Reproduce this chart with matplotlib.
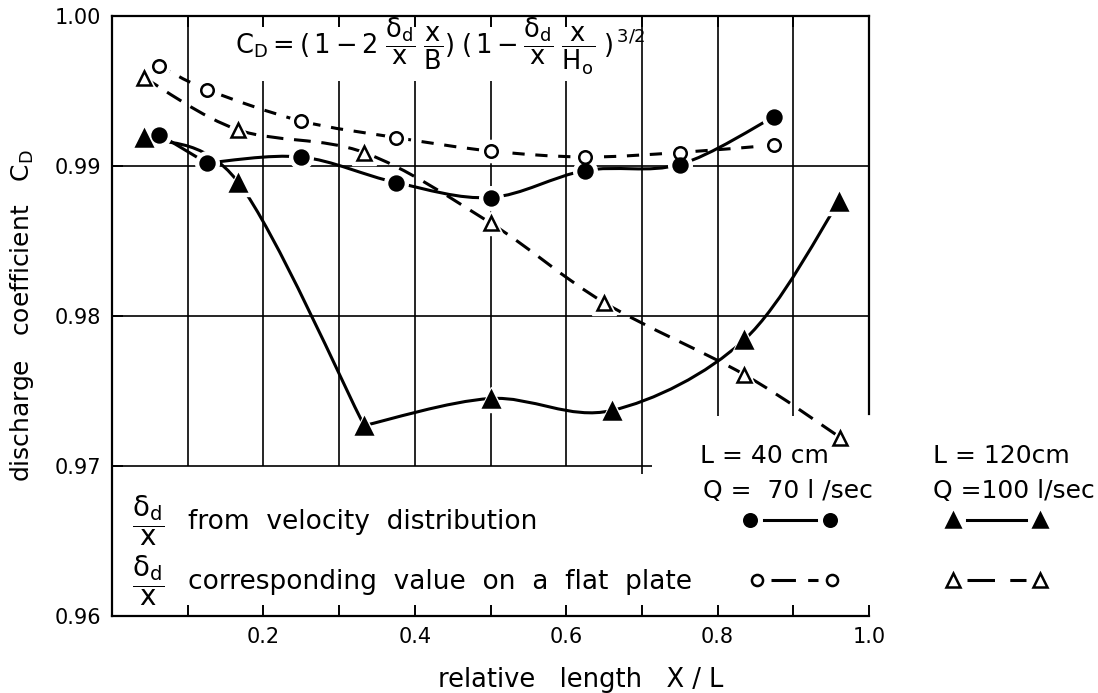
import numpy as np
import matplotlib
matplotlib.use("Agg")
import matplotlib.pyplot as plt
from matplotlib.path import Path
from matplotlib.patches import PathPatch
from matplotlib.lines import Line2D

plt.rcParams['font.family'] = ['DejaVu Sans']
plt.rcParams['mathtext.fontset'] = 'dejavusans'
plt.rcParams['mathtext.default'] = 'regular'

# L = 40 cm, Q = 70 l/sec
x_40 = [0.0625, 0.125, 0.25, 0.375, 0.5, 0.625, 0.75, 0.875]
cd_40_velocity = [0.9921, 0.9902, 0.9906, 0.9889, 0.9879, 0.9897, 0.9901, 0.9933]
cd_40_plate = [0.9967, 0.9951, 0.9930, 0.9919, 0.9910, 0.9906, 0.9909, 0.9914]

# L = 120 cm, Q = 100 l/sec
x_120 = [0.042, 0.167, 0.333, 0.5, 0.66, 0.835, 0.96]
cd_120_velocity = [0.9919, 0.9889, 0.9727, 0.9745, 0.9737, 0.9784, 0.9876]
x_120_plate = [0.042, 0.167, 0.333, 0.5, 0.65, 0.835, 0.962]
cd_120_plate = [0.9959, 0.9924, 0.9909, 0.9862, 0.9809, 0.9761, 0.9719]

y_ticks = [0.96, 0.97, 0.98, 0.99, 1.00]
x_ticks = [0.2, 0.4, 0.6, 0.8, 1.0]

W, H = 1098, 693


def fx(px):
    return px / W


def fy(py):
    return 1 - py / H


def smooth_path(xs, ys, corners=()):
    # catmull-rom through the points (bezier segments), restarted at corners
    pts = np.column_stack([xs, ys])
    cuts = [0] + list(corners) + [len(pts) - 1]
    verts = [pts[0]]
    codes = [Path.MOVETO]
    for a, b in zip(cuts[:-1], cuts[1:]):
        piece = pts[a:b + 1]
        ext = np.vstack([piece[0], piece, piece[-1]])
        for i in range(len(piece) - 1):
            p0, p1, p2, p3 = ext[i], ext[i + 1], ext[i + 2], ext[i + 3]
            verts += [p1 + (p2 - p0) / 6, p2 - (p3 - p1) / 6, p2]
            codes += [Path.CURVE4] * 3
    return Path(verts, codes)


fig = plt.figure(figsize=(W / 100, H / 100), dpi=100)
ax = fig.add_axes([fx(112), fy(616), fx(869) - fx(112), fy(16) - fy(616)])
ax.set_xlim(0, 1.0)
ax.set_ylim(0.96, 1.00)

# grid, drawn by hand since it is cut around the formula and the legend
ax.hlines([0.98, 0.99], 0, 1.0, color='black', lw=1.2, zorder=1)
ax.hlines(0.97, 0, 0.713, color='black', lw=1.2, zorder=1)
ax.vlines(0.1, 0.97, 1.0, color='black', lw=1.2, zorder=1)
ax.vlines(0.7, 0.9695, 1.0, color='black', lw=1.2, zorder=1)
for gx in [0.2, 0.3, 0.4, 0.5, 0.6]:
    ax.vlines(gx, 0.97, 0.9957, color='black', lw=1.2, zorder=1)
for gx in [0.8, 0.9]:
    ax.vlines(gx, 0.9733, 1.0, color='black', lw=1.2, zorder=1)

for s in ['left', 'bottom', 'top', 'right']:
    ax.spines[s].set_linewidth(1.6)
ax.spines['right'].set_bounds(0.9735, 1.0)
ax.set_axisbelow(False)

ax.set_yticks(y_ticks)
ax.set_yticklabels([f'{v:.2f}' for v in y_ticks])
ax.set_xticks(x_ticks)
ax.set_xticklabels([f'{v:.1f}' for v in x_ticks])
ax.set_xticks(np.arange(0.1, 1.0, 0.2), minor=True)
ax.tick_params(which='both', direction='in', length=8, width=1.4, top=True, right=False,
               labelsize=15, pad=8)


def draw_series(xs, ys, marker, face, ls, ms, corners=()):
    ax.add_patch(PathPatch(smooth_path(xs, ys, corners), fill=False, lw=2.2, ls=ls,
                           ec='black', zorder=3, capstyle='butt'))
    ax.plot(xs, ys, ls='none', marker=marker, ms=ms + 7, mfc='white', mec='white', zorder=4)
    ax.plot(xs, ys, ls='none', marker=marker, ms=ms, mfc=face, mec='black', mew=1.8, zorder=5)


draw_series(x_40, cd_40_plate, 'o', 'white', (0, (4, 3.5)), 9)
draw_series(x_120_plate, cd_120_plate, '^', 'white', (0, (5.5, 3.5)), 10)
draw_series(x_40, cd_40_velocity, 'o', 'black', '-', 10, corners=(1,))
draw_series(x_120, cd_120_velocity, '^', 'black', '-', 11, corners=(2,))

# formula
fig.text(fx(440), fy(46),
         r'$C_D = (\,1 - 2\;\dfrac{\delta_d}{x}\;\dfrac{x}{B})\;(\,1 - \dfrac{\delta_d}{x}\;\dfrac{x}{H_o}\;)^{\,3/2}$',
         ha='center', va='center', fontsize=18.5)

# axis titles
fig.text(fx(22), fy(316), r'discharge   coefficient   $C_D$', rotation=90,
         ha='center', va='center', fontsize=18)
fig.text(fx(581), fy(680), 'relative   length   X / L', ha='center', va='center', fontsize=18.5)

# legend block
frac = r'$\dfrac{\delta_d}{x}$'
fig.text(fx(148), fy(521), frac, ha='center', va='center', fontsize=20)
fig.text(fx(188), fy(522), 'from  velocity  distribution', ha='left', va='center', fontsize=19)
fig.text(fx(148), fy(581), frac, ha='center', va='center', fontsize=20)
fig.text(fx(188), fy(582), 'corresponding  value  on  a  flat  plate', ha='left', va='center', fontsize=19)

fig.text(fx(700), fy(456), 'L = 40 cm', ha='left', va='center', fontsize=18)
fig.text(fx(703), fy(491), 'Q =  70 l /sec', ha='left', va='center', fontsize=18)
fig.text(fx(933), fy(456), 'L = 120cm', ha='left', va='center', fontsize=18)
fig.text(fx(933), fy(491), 'Q =100 l/sec', ha='left', va='center', fontsize=18)


def legend_symbol(x0, x1, py, marker, face, ls, ms):
    fig.add_artist(Line2D([fx(x0 + 14), fx(x1 - 14)], [fy(py)] * 2, transform=fig.transFigure,
                          color='black', lw=2.2, ls=ls))
    fig.add_artist(Line2D([fx(x0), fx(x1)], [fy(py)] * 2, transform=fig.transFigure, ls='none',
                          marker=marker, ms=ms, mfc=face, mec='black', mew=1.8))


legend_symbol(750, 830, 520, 'o', 'black', '-', 9)
legend_symbol(953, 1040, 520, '^', 'black', '-', 10)
legend_symbol(757, 832, 580, 'o', 'white', (0, (8, 4)), 8)
legend_symbol(953, 1040, 580, '^', 'white', (0, (9, 5)), 10)

fig.savefig('out.png', dpi=100)
